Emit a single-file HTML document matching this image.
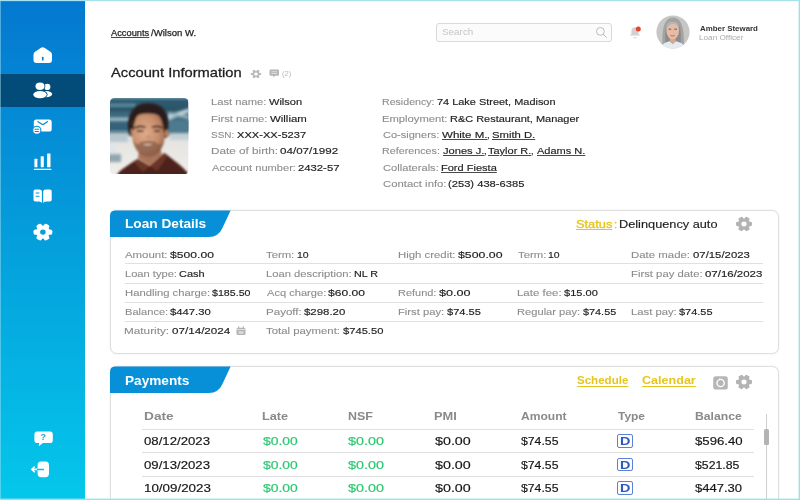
<!DOCTYPE html>
<html lang="en"><head><meta charset="utf-8"><title>Account - Wilson W.</title>
<style>
*{box-sizing:border-box;margin:0;padding:0}
html,body{width:800px;height:500px;overflow:hidden;background:#fff}
body{position:relative;font-family:"Liberation Sans",sans-serif;color:#222}
.abs,.t,svg.i{position:absolute}
.t{white-space:nowrap;line-height:1;display:block;transform-origin:0 0}
.side{position:absolute;left:0;top:0;width:85px;height:500px;background:linear-gradient(180deg,#0478d0 0%,#04a0dc 50%,#04c7eb 100%)}
.side .active{position:absolute;left:0;top:73.5px;width:85px;height:33px;background:#034c7a}
.frame{position:absolute;left:0;top:0;width:800px;height:500px;pointer-events:none;box-shadow:inset 0 1px 0 #a4e2ee,inset -1px 0 0 #9fe1ea,inset 0 -1px 0 #9ae3ee,inset 1px 0 0 rgba(170,228,242,.45),inset -2px 0 0 rgba(159,225,234,.4),inset 0 -2px 0 rgba(154,227,238,.4),inset 0 2px 0 rgba(164,226,238,.15)}
.card{position:absolute;border:1px solid #dfdfdf;border-radius:7px;background:#fff;box-shadow:0 0 2px rgba(0,0,0,.10)}
.u{text-decoration:underline;text-decoration-thickness:.7px;text-underline-offset:1.2px}
.hl{position:absolute;height:1px;background:#e0e0e0}
.search{position:absolute;left:436px;top:23px;width:176px;height:19px;border:1px solid #dadada;border-radius:3px;background:#fbfbfb}
.dbox{position:absolute;width:15.6px;height:13.6px;border:1px solid #5b82d4;border-radius:2px;background:#fdfdff}

</style></head>
<body>
<nav class="side">
  <div class="active"></div>
  <!-- home -->
  <svg class="i" style="left:30px;top:44px" width="26" height="22" viewBox="30 44 26 22"><path d="M40.6 48.1 Q42.7 46.5 44.8 48.1 L50.4 51.7 Q52 52.8 52 54.8 V59.9 Q52 62.9 49 62.9 H36.5 Q33.5 62.9 33.5 59.9 V54.8 Q33.5 52.8 35.1 51.7 Z" fill="#fff"/><rect x="41.9" y="56.7" width="1.7" height="3.9" rx=".85" fill="#047ed2"/></svg>
  <!-- users -->
  <svg class="i" style="left:30px;top:80px" width="26" height="22" viewBox="30 80 26 22"><circle cx="47.300" cy="86.900" r="3.100" fill="#fff"/><ellipse cx="46.200" cy="94.100" rx="6" ry="3.100" fill="#fff"/><ellipse cx="40" cy="86.300" rx="4.500" ry="3.700" fill="#fff" stroke="#034c7a" stroke-width="1.800"/><ellipse cx="40" cy="94.600" rx="6.700" ry="3.600" fill="#fff" stroke="#034c7a" stroke-width="1.800"/><ellipse cx="40" cy="86.300" rx="4.500" ry="3.700" fill="#fff"/><ellipse cx="40" cy="94.600" rx="6.700" ry="3.600" fill="#fff"/></svg>
  <!-- mail -->
  <svg class="i" style="left:30px;top:116px" width="26" height="22" viewBox="30 116 26 22"><rect x="33.8" y="119.4" width="17.9" height="12.1" rx="2.6" fill="#fff"/><path d="M38 121.7 L42.8 124.7 L47.4 121.7" fill="none" stroke="#048bd6" stroke-width="1.3" stroke-linecap="round" stroke-linejoin="round"/><circle cx="36.8" cy="130.3" r="4.1" fill="#fff" stroke="#048dd6" stroke-width="1.1"/><path d="M35.1 129.3 H38.7 M35.1 131.5 H38.7" stroke="#048dd6" stroke-width="1.1" stroke-linecap="round"/></svg>
  <!-- chart -->
  <svg class="i" style="left:30px;top:150px" width="26" height="22" viewBox="30 150 26 22"><rect x="34.4" y="158.8" width="3" height="8.4" rx=".4" fill="#fff"/><rect x="40.7" y="156.2" width="3.1" height="11" rx=".4" fill="#fff"/><rect x="47.1" y="153.6" width="3.4" height="13.6" rx=".4" fill="#fff"/><rect x="33.8" y="168.7" width="17.6" height="1.4" rx=".5" fill="#fff"/></svg>
  <!-- book -->
  <svg class="i" style="left:30px;top:186px" width="26" height="22" viewBox="30 186 26 22"><path d="M33.5 191.2 Q33.5 189.4 35.3 189.4 H39.3 Q41.9 189.4 41.9 191.6 V203.1 Q41.1 201.6 39 201.6 H35.3 Q33.5 201.6 33.5 199.8 Z" fill="#fff"/><path d="M51.7 191.2 Q51.7 189.4 49.900 189.4 H45.800 Q43.200 189.4 43.200 191.6 V203.1 Q44 201.6 46.100 201.6 H49.900 Q51.700 201.6 51.700 199.8 Z" fill="#fff"/><path d="M36.1 193 H39 M36.1 196.300 H39" stroke="#0497d9" stroke-width="1" stroke-linecap="round"/></svg>
  <!-- gear -->
  <svg class="i" style="left:30px;top:221px" width="26" height="22" viewBox="-13 -11 26 22"><g transform="translate(-.1 .1) scale(1 .93)"><g fill="#fff"><rect x="-9.4" y="-2.900" width="18.800" height="5.800" rx="2"/><rect x="-9.4" y="-2.900" width="18.800" height="5.800" rx="2" transform="rotate(60)"/><rect x="-9.4" y="-2.900" width="18.800" height="5.800" rx="2" transform="rotate(120)"/><circle r="7"/></g><circle r="2.800" fill="#049fdc"/></g></svg>
  <!-- help -->
  <svg class="i" style="left:30px;top:428px" width="26" height="22" viewBox="30 428 26 22"><path d="M37.200 431.600 H50 Q52.800 431.600 52.800 434.400 V440.200 Q52.800 443 50 443 H43 L39.300 445.800 Q38.700 446.200 38.800 445.400 L39.200 443 H37.200 Q34.400 443 34.400 440.200 V434.400 Q34.400 431.600 37.200 431.600 Z" fill="#fff"/></svg>
  <span class="t" style="left:40.500px;top:433px;font-size:9px;font-weight:700;color:#11a8de">?</span>
  <!-- logout -->
  <svg class="i" style="left:28px;top:458px" width="26" height="22" viewBox="28 458 26 22"><rect x="37.600" y="461.600" width="11.400" height="15.600" rx="3.600" fill="#fff"/><path d="M38 469.400 H32 M34.300 467 L31.900 469.400 L34.300 471.800" fill="none" stroke="#fff" stroke-width="1.600" stroke-linecap="round" stroke-linejoin="round"/><path d="M37.600 469.400 H43.400" stroke="#04c2e9" stroke-width="1.500" stroke-linecap="round"/></svg>
</nav>

<main>
  <!-- header -->
  <div class="search"></div>
  <svg class="i" style="left:595px;top:26px" width="13" height="13" viewBox="0 0 13 13"><circle cx="5.4" cy="5.4" r="3.9" fill="none" stroke="#bcbcbc" stroke-width="1"/><path d="M8.3 8.3 L11.4 11.4" stroke="#bcbcbc" stroke-width="1" stroke-linecap="round"/></svg>
  <!-- bell -->
  <svg class="i" style="left:626px;top:24px" width="18" height="18" viewBox="626 24 18 18"><path d="M635 27.200 Q638.600 27.200 638.600 31.200 V33.400 L640 35.600 H630 L631.400 33.400 V31.200 Q631.400 27.200 635 27.200 Z" fill="#d2d2d2"/><path d="M633.700 37.800 H636.300" stroke="#d6d6d6" stroke-width="1.100" stroke-linecap="round"/><circle cx="638.300" cy="29.100" r="2.500" fill="#e8432d"/></svg>
  <!-- avatar -->
  <svg class="i" style="left:656px;top:15px" width="34" height="34" viewBox="0 0 34 34"><defs><clipPath id="av"><circle cx="17" cy="17" r="16.600"/></clipPath><filter id="b1"><feGaussianBlur stdDeviation=".6"/></filter></defs><g clip-path="url(#av)"><rect width="34" height="34" fill="#c6c6c5"/><g filter="url(#b1)" transform="translate(0 -1.800)"><path d="M7 38 C5.500 22 6 4.500 17 4.300 C28 4.500 28.500 22 27.500 38 Z" fill="#a3a3a3"/><path d="M9.500 30 C8.500 18 9.500 7.500 17 7.500 C24.500 7.500 25.500 18 24.500 31 Z" fill="#8b8b8b"/><path d="M4 38 C5 29.500 11 28 16.800 28 C22.500 28 29 29.500 30 38 Z" fill="#e4ebf2"/><path d="M13.800 23 H19.600 V28.500 L16.700 31 L13.800 28.500 Z" fill="#d8a790"/><ellipse cx="16.700" cy="17.500" rx="6.300" ry="8.600" fill="#e6bca6"/><path d="M10 17 C10 9.500 13 8 16.800 8 C20.500 8 23.500 9.500 23.400 17 C22.500 12.500 20.500 10.800 17.500 10.500 C14 10.800 11.500 12.500 10 17 Z" fill="#b4b4b3"/><path d="M14.500 22.300 Q16.700 23.300 18.900 22.300" stroke="#b86c66" stroke-width="1" fill="none"/><path d="M12.600 16 H15.200 M18.200 16 H20.800" stroke="#5d473e" stroke-width=".9"/></g></g></svg>

  <!-- title icons -->
  <svg class="i" style="left:250px;top:67.500px" width="12" height="12" viewBox="-6 -6 12 12"><g transform="scale(1 .86)"><g fill="#b9b9b9"><rect x="-5.200" y="-1.300" width="10.400" height="2.600" rx=".8"/><rect x="-5.200" y="-1.300" width="10.400" height="2.600" rx=".8" transform="rotate(60)"/><rect x="-5.200" y="-1.300" width="10.400" height="2.600" rx=".8" transform="rotate(120)"/><circle r="3.600"/></g><circle r="1.800" fill="#fff"/></g></svg>
  <svg class="i" style="left:268.500px;top:69.200px" width="10.500" height="9" viewBox="0 0 10.500 9"><path d="M1.700 .5 H8.800 Q10 .5 10 1.700 V5.600 Q10 6.800 8.800 6.800 H6 L4.600 8.400 L4.200 6.800 H1.700 Q.5 6.800 .5 5.600 V1.700 Q.5 .5 1.700 .5 Z" fill="#b5b5b5"/><path d="M2.300 2.700 H8.200 M2.300 4.500 H8.200" stroke="#e6e6e6" stroke-width=".8"/></svg>

  <!-- portrait -->
  <svg class="i" style="left:110.300px;top:97.500px" width="78.500" height="76.500" viewBox="0 0 78.500 76.500"><defs><clipPath id="pc"><rect width="78.500" height="76.500" rx="4.500"/></clipPath><filter id="b2" x="-20%" y="-20%" width="140%" height="140%"><feGaussianBlur stdDeviation=".8"/></filter><filter id="b3" x="-20%" y="-20%" width="140%" height="140%"><feGaussianBlur stdDeviation="1.800"/></filter><linearGradient id="bg" x1="0" y1="0" x2="0" y2="1"><stop offset="0" stop-color="#5e8aa0"/><stop offset=".04" stop-color="#2f5a6f"/><stop offset=".15" stop-color="#2b5468"/><stop offset=".2" stop-color="#3b687c"/><stop offset=".4" stop-color="#34617a"/><stop offset=".46" stop-color="#7d9ba8"/><stop offset=".52" stop-color="#e4e3e0"/><stop offset="1" stop-color="#f1eeea"/></linearGradient><radialGradient id="sk" cx=".4" cy=".45" r=".65"><stop offset="0" stop-color="#dfab8a"/><stop offset=".6" stop-color="#c98f6e"/><stop offset="1" stop-color="#9c684d"/></radialGradient></defs>
  <g clip-path="url(#pc)"><rect width="78.500" height="76.500" fill="url(#bg)"/>
   <g filter="url(#b3)"><rect x="-4" y="19.500" width="26" height="3.500" fill="#a4bcc7"/><rect x="-4" y="5.500" width="30" height="3.500" fill="#5d8ba0"/><path d="M56 18 L80 10 L80 14 L58 22 Z" fill="#c6d8df"/><path d="M58 14 L80 18 L80 21 L58 17 Z" fill="#9db8c4"/><rect x="58" y="22" width="24" height="12" fill="#4d7a8f"/><rect x="-4" y="36" width="22" height="8" fill="#b9c8cf"/><rect x="-4" y="56" width="15" height="8" fill="#8fa5af"/><rect x="-4" y="46" width="10" height="10" fill="#dfe6e8"/><rect x="60" y="36" width="22" height="6" fill="#c3d0d5"/></g>
   <g filter="url(#b2)">
    <path d="M6 78 L9 74 C13 70 20 66 27.500 61 L39.700 68 L54.400 55 C58 58 70 66 77 74 L80 78 Z" fill="#4e241b"/>
    <path d="M27.500 61 L39.700 68 L33 74 L24 64 Z M54.400 55 L39.700 68 L47 73 L57 59 Z" fill="#6a3426"/>
    <path d="M29.200 50 H50.200 L52 57 L39.700 67.500 L28 60.500 Z" fill="#a9745a"/>
    <path d="M18.500 34 C16 16 24 5 38 5.200 C52 5 60 14 58 30 L56.500 40 L20.500 38 Z" fill="#2a1e1a"/>
    <path d="M21 30 C20.500 20 27 15.500 38 15.500 C49 15.500 55.500 20 55.500 30 C55.500 44 50 58.800 38.700 58.800 C28 58.800 21 44 21 30 Z" fill="url(#sk)"/>
    <path d="M22.500 40 C24 52 30 58.800 38.700 58.800 C47.500 58.800 53 52 55 40 C53 46 49.500 48 46 44.500 C42.500 42.500 34.500 42.500 31 44.500 C28 48 24.500 46 22.500 40 Z" fill="#7a5140" opacity=".6"/>
    <path d="M31.500 45.200 Q37.500 46.800 43.500 44.900 Q38 49.600 31.500 45.200 Z" fill="#efe3da"/><path d="M29.500 44.600 Q37.500 47 45.500 44.200" stroke="#8a5a48" stroke-width=".9" fill="none"/>
    <path d="M24.500 30 Q29.500 27 35.500 29.500 M42 29.500 Q47.500 27 52.300 30" stroke="#2a1e1a" stroke-width="1.700" fill="none"/>
    <path d="M27 33.200 H33.500 M44 33.200 H50" stroke="#2e211c" stroke-width="1.700"/>
    <path d="M36.500 38.500 Q38.500 40 40.500 38.500" stroke="#a9745a" stroke-width="1" fill="none"/>
    <ellipse cx="56.800" cy="35.500" rx="1.900" ry="3.800" fill="#b27a5c"/>
    <path d="M21 30 C21 22 24 17.500 29 16 C25 20 24 26 23.500 33 Z M55.500 30 C55.500 22 52 17 47 15.800 C52 20 53 27 54 36 Z" fill="#2a1e1a"/>
   </g></g></svg>

  <!-- loan card -->
  <section class="card" style="left:110px;top:210px;width:669px;height:144px"></section>
  <svg class="i" style="left:110px;top:210px" width="125" height="28" viewBox="0 0 125 28"><path d="M0 27 V6 Q0 .6 5.500 .6 H120.600 L112.200 18.600 Q108.400 27 99 27 Z" fill="#0790d8"/></svg>
  <div class="hl" style="left:125px;top:263.3px;width:638px"></div>
  <div class="hl" style="left:125px;top:282.600px;width:638px"></div>
  <div class="hl" style="left:125px;top:301.800px;width:638px"></div>
  <div class="hl" style="left:125px;top:321px;width:638px"></div>
  <!-- calendar mini -->
  <svg class="i" style="left:235.500px;top:326px" width="10" height="10" viewBox="235.500 326 10 10"><rect x="236" y="327.800" width="9" height="7.200" rx="1.500" fill="#b4b4b4"/><path d="M238.200 326.800 V328.500 M242.800 326.800 V328.500" stroke="#b4b4b4" stroke-width="1.200" stroke-linecap="round"/><path d="M236 329.500 H245" stroke="#fff" stroke-width=".6"/><rect x="238" y="331.300" width="5" height="2.500" rx=".4" fill="#dcdcdc"/></svg>
  <!-- gear loan -->
  <svg class="i" style="left:733.900px;top:216.200px" width="20" height="16" viewBox="-10 -8 20 16"><g transform="scale(1 .93)"><g fill="#b3b3b3"><rect x="-8" y="-2.500" width="16" height="5" rx="1.600"/><rect x="-8" y="-2.500" width="16" height="5" rx="1.600" transform="rotate(60)"/><rect x="-8" y="-2.500" width="16" height="5" rx="1.600" transform="rotate(120)"/><circle r="6"/></g><circle r="2.600" fill="#fff"/></g></svg>

  <!-- payments card -->
  <section class="card" style="left:110px;top:366px;width:669px;height:160px"></section>
  <svg class="i" style="left:110px;top:366.200px" width="125" height="28" viewBox="0 0 125 28"><path d="M0 27 V6 Q0 .6 5.500 .6 H120.600 L112.200 18.600 Q108.400 27 99 27 Z" fill="#0790d8"/></svg>
  <!-- refresh icon -->
  <svg class="i" style="left:712.500px;top:375.500px" width="15" height="14" viewBox="0 0 15 14"><rect x=".2" y=".3" width="14.600" height="13.200" rx="2.600" fill="#b6b6b6"/><circle cx="7.600" cy="7" r="3.600" fill="none" stroke="#fff" stroke-width="1.400"/><path d="M5.400 2 L7.400 4.600" fill="none" stroke="#b6b6b6" stroke-width="1.300"/><circle cx="6.700" cy="3.400" r=".9" fill="#fff"/></svg>
  <svg class="i" style="left:733.900px;top:374.400px" width="20" height="16" viewBox="-10 -8 20 16"><g transform="scale(1 .93)"><g fill="#b3b3b3"><rect x="-8" y="-2.500" width="16" height="5" rx="1.600"/><rect x="-8" y="-2.500" width="16" height="5" rx="1.600" transform="rotate(60)"/><rect x="-8" y="-2.500" width="16" height="5" rx="1.600" transform="rotate(120)"/><circle r="6"/></g><circle r="2.600" fill="#fff"/></g></svg>
  <div class="hl" style="left:141.500px;top:429px;width:612px"></div>
  <div class="hl" style="left:141.500px;top:452px;width:612px"></div>
  <div class="hl" style="left:141.500px;top:476px;width:612px"></div>
  <div class="dbox" style="left:617.200px;top:434.200px"></div>
  <div class="dbox" style="left:617.200px;top:457.900px"></div>
  <div class="dbox" style="left:617.200px;top:481.400px"></div>
  <!-- scrollbar -->
  <div class="abs" style="left:765.700px;top:414px;width:1px;height:90px;background:#cfcfcf"></div>
  <div class="abs" style="left:763.500px;top:428.500px;width:5.500px;height:16px;border-radius:1.500px;background:#b3b3b3"></div>

<header class="grp hdr">
<span class="t u" style="left:111.00px;top:29px;font-size:9px;color:#1f1f1f;transform:scaleX(1.0339);-webkit-text-stroke:0.16px;text-decoration-color:#4a4a4a;-webkit-text-stroke:.25px;">Accounts</span>
<span class="t" style="left:151.00px;top:29px;font-size:9px;color:#1f1f1f;transform:scaleX(1.0634);-webkit-text-stroke:0.16px;-webkit-text-stroke:.25px;">/Wilson W.</span>
<span class="t" style="left:111.00px;top:66px;font-size:13px;color:#1f1f1f;transform:scaleX(1.1300);-webkit-text-stroke:0.16px;-webkit-text-stroke:.28px;">Account Information</span>
<span class="t" style="left:282.00px;top:71px;font-size:6.6px;color:#b9b9b9;transform:scaleX(1.1422);">(2)</span>
<span class="t" style="left:442.00px;top:28px;font-size:8.5px;color:#c6c6c6;transform:scaleX(1.1634);">Search</span>
<span class="t" style="left:700.00px;top:25px;font-size:7.6px;color:#333;font-weight:700;transform:scaleX(1.0400);">Amber Steward</span>
<span class="t" style="left:699.00px;top:34px;font-size:7.4px;color:#aaa;transform:scaleX(1.1057);">Loan Officer</span>
</header>
<section class="grp acct">
<span class="t" style="left:211.00px;top:97px;font-size:9.5px;color:#8c8c8c;transform:scaleX(1.1800);-webkit-text-stroke:0.1px;">Last name:</span>
<span class="t" style="left:269.00px;top:97px;font-size:9.5px;color:#1f1f1f;transform:scaleX(1.1623);-webkit-text-stroke:0.16px;">Wilson</span>
<span class="t" style="left:211.00px;top:114px;font-size:9.5px;color:#8c8c8c;transform:scaleX(1.1890);-webkit-text-stroke:0.1px;">First name:</span>
<span class="t" style="left:270.00px;top:114px;font-size:9.5px;color:#1f1f1f;transform:scaleX(1.2013);-webkit-text-stroke:0.16px;">William</span>
<span class="t" style="left:211.00px;top:130px;font-size:9.5px;color:#8c8c8c;transform:scaleX(1.0460);-webkit-text-stroke:0.1px;">SSN:</span>
<span class="t" style="left:237.00px;top:130px;font-size:9.5px;color:#1f1f1f;transform:scaleX(1.1679);-webkit-text-stroke:0.16px;">XXX-XX-5237</span>
<span class="t" style="left:211.00px;top:146px;font-size:9.5px;color:#8c8c8c;transform:scaleX(1.2341);-webkit-text-stroke:0.1px;">Date of birth:</span>
<span class="t" style="left:280.00px;top:146px;font-size:9.5px;color:#1f1f1f;transform:scaleX(1.2232);-webkit-text-stroke:0.16px;">04/07/1992</span>
<span class="t" style="left:212.00px;top:163px;font-size:9.5px;color:#8c8c8c;transform:scaleX(1.1688);-webkit-text-stroke:0.1px;">Account number:</span>
<span class="t" style="left:298.00px;top:163px;font-size:9.5px;color:#1f1f1f;transform:scaleX(1.1887);-webkit-text-stroke:0.16px;">2432-57</span>
<span class="t" style="left:382.00px;top:97px;font-size:9.5px;color:#8c8c8c;transform:scaleX(1.1169);-webkit-text-stroke:0.1px;">Residency:</span>
<span class="t" style="left:437.00px;top:97px;font-size:9.5px;color:#1f1f1f;transform:scaleX(1.1509);-webkit-text-stroke:0.16px;">74 Lake Street, Madison</span>
<span class="t" style="left:382.00px;top:114px;font-size:9.5px;color:#8c8c8c;transform:scaleX(1.1807);-webkit-text-stroke:0.1px;">Employment:</span>
<span class="t" style="left:450.00px;top:114px;font-size:9.5px;color:#1f1f1f;transform:scaleX(1.1544);-webkit-text-stroke:0.16px;">R&amp;C Restaurant, Manager</span>
<span class="t" style="left:383.00px;top:130px;font-size:9.5px;color:#8c8c8c;transform:scaleX(1.1610);-webkit-text-stroke:0.1px;">Co-signers:</span>
<span class="t u" style="left:442.00px;top:130px;font-size:9.5px;color:#1f1f1f;transform:scaleX(1.2145);-webkit-text-stroke:0.16px;text-decoration-color:#4a4a4a;">White M.</span>
<span class="t" style="left:487.00px;top:130px;font-size:9.5px;color:#1f1f1f;-webkit-text-stroke:0.16px;">,</span>
<span class="t u" style="left:492.00px;top:130px;font-size:9.5px;color:#1f1f1f;transform:scaleX(1.1863);-webkit-text-stroke:0.16px;text-decoration-color:#4a4a4a;">Smith D.</span>
<span class="t u" style="left:443.00px;top:146px;font-size:9.5px;color:#1f1f1f;transform:scaleX(1.1710);-webkit-text-stroke:0.16px;text-decoration-color:#4a4a4a;">Jones J.</span>
<span class="t" style="left:484.00px;top:146px;font-size:9.5px;color:#1f1f1f;-webkit-text-stroke:0.16px;">,</span>
<span class="t u" style="left:488.00px;top:146px;font-size:9.5px;color:#1f1f1f;transform:scaleX(1.1556);-webkit-text-stroke:0.16px;text-decoration-color:#4a4a4a;">Taylor R.</span>
<span class="t" style="left:531.00px;top:146px;font-size:9.5px;color:#1f1f1f;-webkit-text-stroke:0.16px;">,</span>
<span class="t u" style="left:537.00px;top:146px;font-size:9.5px;color:#1f1f1f;transform:scaleX(1.1595);-webkit-text-stroke:0.16px;text-decoration-color:#4a4a4a;">Adams N.</span>
<span class="t" style="left:382.00px;top:146px;font-size:9.5px;color:#8c8c8c;transform:scaleX(1.1312);-webkit-text-stroke:0.1px;">References:</span>
<span class="t" style="left:383.00px;top:163px;font-size:9.5px;color:#8c8c8c;transform:scaleX(1.1738);-webkit-text-stroke:0.1px;">Collaterals:</span>
<span class="t u" style="left:441.00px;top:163px;font-size:9.5px;color:#1f1f1f;transform:scaleX(1.1609);-webkit-text-stroke:0.16px;text-decoration-color:#4a4a4a;">Ford Fiesta</span>
<span class="t" style="left:383.00px;top:179px;font-size:9.5px;color:#8c8c8c;transform:scaleX(1.1905);-webkit-text-stroke:0.1px;">Contact info:</span>
<span class="t" style="left:448.00px;top:179px;font-size:9.5px;color:#1f1f1f;transform:scaleX(1.1758);-webkit-text-stroke:0.16px;">(253) 438-6385</span>
</section>
<section class="grp loan">
<span class="t" style="left:125.00px;top:218px;font-size:12px;color:#fff;font-weight:700;transform:scaleX(1.1382);">Loan Details</span>
<span class="t u" style="left:576.00px;top:219px;font-size:11.5px;color:#e6c61c;transform:scaleX(1.1145);-webkit-text-stroke:.35px;">Status</span>
<span class="t" style="left:614.00px;top:219px;font-size:11.5px;color:#e6c61c;-webkit-text-stroke:.35px;">:</span>
<span class="t" style="left:619.00px;top:219px;font-size:11.5px;color:#1f1f1f;transform:scaleX(1.1082);-webkit-text-stroke:0.16px;">Delinquency auto</span>
<span class="t" style="left:125.00px;top:250px;font-size:9.8px;color:#8c8c8c;transform:scaleX(1.1648);-webkit-text-stroke:0.1px;">Amount:</span>
<span class="t" style="left:170.00px;top:250px;font-size:9.8px;color:#1f1f1f;transform:scaleX(1.2394);-webkit-text-stroke:0.16px;">$500.00</span>
<span class="t" style="left:125.00px;top:269px;font-size:9.8px;color:#8c8c8c;transform:scaleX(1.1353);-webkit-text-stroke:0.1px;">Loan type:</span>
<span class="t" style="left:179.00px;top:269px;font-size:9.8px;color:#1f1f1f;transform:scaleX(1.1211);-webkit-text-stroke:0.16px;">Cash</span>
<span class="t" style="left:125.00px;top:288px;font-size:9.8px;color:#8c8c8c;transform:scaleX(1.1498);-webkit-text-stroke:0.1px;">Handling charge:</span>
<span class="t" style="left:212.00px;top:288px;font-size:9.8px;color:#1f1f1f;transform:scaleX(1.0862);-webkit-text-stroke:0.16px;">$185.50</span>
<span class="t" style="left:125.00px;top:307px;font-size:9.8px;color:#8c8c8c;transform:scaleX(1.1333);-webkit-text-stroke:0.1px;">Balance:</span>
<span class="t" style="left:170.00px;top:307px;font-size:9.8px;color:#1f1f1f;transform:scaleX(1.1502);-webkit-text-stroke:0.16px;">$447.30</span>
<span class="t" style="left:124.00px;top:326px;font-size:9.8px;color:#8c8c8c;transform:scaleX(1.2016);-webkit-text-stroke:0.1px;">Maturity:</span>
<span class="t" style="left:172.00px;top:326px;font-size:9.8px;color:#1f1f1f;transform:scaleX(1.1882);-webkit-text-stroke:0.16px;">07/14/2024</span>
<span class="t" style="left:266.00px;top:250px;font-size:9.8px;color:#8c8c8c;transform:scaleX(1.1529);-webkit-text-stroke:0.1px;">Term:</span>
<span class="t" style="left:297.00px;top:250px;font-size:9.8px;color:#1f1f1f;transform:scaleX(1.0687);-webkit-text-stroke:0.16px;">10</span>
<span class="t" style="left:266.00px;top:269px;font-size:9.8px;color:#8c8c8c;transform:scaleX(1.1465);-webkit-text-stroke:0.1px;">Loan description:</span>
<span class="t" style="left:354.00px;top:269px;font-size:9.8px;color:#1f1f1f;transform:scaleX(1.0941);-webkit-text-stroke:0.16px;">NL R</span>
<span class="t" style="left:267.00px;top:288px;font-size:9.8px;color:#8c8c8c;transform:scaleX(1.1331);-webkit-text-stroke:0.1px;">Acq charge:</span>
<span class="t" style="left:328.00px;top:288px;font-size:9.8px;color:#1f1f1f;transform:scaleX(1.2316);-webkit-text-stroke:0.16px;">$60.00</span>
<span class="t" style="left:266.00px;top:307px;font-size:9.8px;color:#8c8c8c;transform:scaleX(1.1807);-webkit-text-stroke:0.1px;">Payoff:</span>
<span class="t" style="left:304.00px;top:307px;font-size:9.8px;color:#1f1f1f;transform:scaleX(1.1658);-webkit-text-stroke:0.16px;">$298.20</span>
<span class="t" style="left:266.00px;top:326px;font-size:9.8px;color:#8c8c8c;transform:scaleX(1.1612);-webkit-text-stroke:0.1px;">Total payment:</span>
<span class="t" style="left:343.00px;top:326px;font-size:9.8px;color:#1f1f1f;transform:scaleX(1.1407);-webkit-text-stroke:0.16px;">$745.50</span>
<span class="t" style="left:398.00px;top:250px;font-size:9.8px;color:#8c8c8c;transform:scaleX(1.1607);-webkit-text-stroke:0.1px;">High credit:</span>
<span class="t" style="left:458.00px;top:250px;font-size:9.8px;color:#1f1f1f;transform:scaleX(1.2569);-webkit-text-stroke:0.16px;">$500.00</span>
<span class="t" style="left:398.00px;top:288px;font-size:9.8px;color:#8c8c8c;transform:scaleX(1.1187);-webkit-text-stroke:0.1px;">Refund:</span>
<span class="t" style="left:439.00px;top:288px;font-size:9.8px;color:#1f1f1f;transform:scaleX(1.2886);-webkit-text-stroke:0.16px;">$0.00</span>
<span class="t" style="left:398.00px;top:307px;font-size:9.8px;color:#8c8c8c;transform:scaleX(1.1456);-webkit-text-stroke:0.1px;">First pay:</span>
<span class="t" style="left:447.00px;top:307px;font-size:9.8px;color:#1f1f1f;transform:scaleX(1.1341);-webkit-text-stroke:0.16px;">$74.55</span>
<span class="t" style="left:518.00px;top:250px;font-size:9.8px;color:#8c8c8c;transform:scaleX(1.1553);-webkit-text-stroke:0.1px;">Term:</span>
<span class="t" style="left:548.00px;top:250px;font-size:9.8px;color:#1f1f1f;transform:scaleX(1.0636);-webkit-text-stroke:0.16px;">10</span>
<span class="t" style="left:517.00px;top:288px;font-size:9.8px;color:#8c8c8c;transform:scaleX(1.1694);-webkit-text-stroke:0.1px;">Late fee:</span>
<span class="t" style="left:564.00px;top:288px;font-size:9.8px;color:#1f1f1f;transform:scaleX(1.1280);-webkit-text-stroke:0.16px;">$15.00</span>
<span class="t" style="left:517.00px;top:307px;font-size:9.8px;color:#8c8c8c;transform:scaleX(1.1372);-webkit-text-stroke:0.1px;">Regular pay:</span>
<span class="t" style="left:583.00px;top:307px;font-size:9.8px;color:#1f1f1f;transform:scaleX(1.1084);-webkit-text-stroke:0.16px;">$74.55</span>
<span class="t" style="left:631.00px;top:250px;font-size:9.8px;color:#8c8c8c;transform:scaleX(1.1650);-webkit-text-stroke:0.1px;">Date made:</span>
<span class="t" style="left:693.00px;top:250px;font-size:9.8px;color:#1f1f1f;transform:scaleX(1.1593);-webkit-text-stroke:0.16px;">07/15/2023</span>
<span class="t" style="left:631.00px;top:269px;font-size:9.8px;color:#8c8c8c;transform:scaleX(1.1541);-webkit-text-stroke:0.1px;">First pay date:</span>
<span class="t" style="left:705.00px;top:269px;font-size:9.8px;color:#1f1f1f;transform:scaleX(1.1694);-webkit-text-stroke:0.16px;">07/16/2023</span>
<span class="t" style="left:631.00px;top:307px;font-size:9.8px;color:#8c8c8c;transform:scaleX(1.1504);-webkit-text-stroke:0.1px;">Last pay:</span>
<span class="t" style="left:679.00px;top:307px;font-size:9.8px;color:#1f1f1f;transform:scaleX(1.1193);-webkit-text-stroke:0.16px;">$74.55</span>
</section>
<section class="grp pay">
<span class="t" style="left:125.00px;top:375px;font-size:12px;color:#fff;font-weight:700;transform:scaleX(1.1343);">Payments</span>
<span class="t u" style="left:577.00px;top:375px;font-size:11px;color:#e6c61c;font-weight:700;transform:scaleX(1.0492);text-underline-offset:2.2px;">Schedule</span>
<span class="t u" style="left:642.00px;top:375px;font-size:11px;color:#e6c61c;font-weight:700;transform:scaleX(1.1420);text-underline-offset:2.2px;">Calendar</span>
<span class="t" style="left:144.00px;top:411px;font-size:10.8px;color:#8a8a8a;font-weight:700;transform:scaleX(1.2666);">Date</span>
<span class="t" style="left:262.00px;top:411px;font-size:10.8px;color:#8a8a8a;font-weight:700;transform:scaleX(1.1798);">Late</span>
<span class="t" style="left:348.00px;top:411px;font-size:10.8px;color:#8a8a8a;font-weight:700;transform:scaleX(1.1564);">NSF</span>
<span class="t" style="left:434.00px;top:411px;font-size:10.8px;color:#8a8a8a;font-weight:700;transform:scaleX(1.1864);">PMI</span>
<span class="t" style="left:521.00px;top:411px;font-size:10.8px;color:#8a8a8a;font-weight:700;transform:scaleX(1.1173);">Amount</span>
<span class="t" style="left:618.00px;top:411px;font-size:10.8px;color:#8a8a8a;font-weight:700;transform:scaleX(1.1058);">Type</span>
<span class="t" style="left:695.00px;top:411px;font-size:10.8px;color:#8a8a8a;font-weight:700;transform:scaleX(1.1297);">Balance</span>
<span class="t" style="left:144.00px;top:436px;font-size:11px;color:#151515;transform:scaleX(1.1987);-webkit-text-stroke:0.16px;">08/12/2023</span>
<span class="t" style="left:263.00px;top:436px;font-size:11px;color:#2cc872;transform:scaleX(1.2609);-webkit-text-stroke:.2px;">$0.00</span>
<span class="t" style="left:348.00px;top:436px;font-size:11px;color:#2cc872;transform:scaleX(1.3025);-webkit-text-stroke:.2px;">$0.00</span>
<span class="t" style="left:435.00px;top:436px;font-size:11px;color:#151515;transform:scaleX(1.2992);-webkit-text-stroke:0.16px;">$0.00</span>
<span class="t" style="left:521.00px;top:436px;font-size:11px;color:#151515;transform:scaleX(1.1135);-webkit-text-stroke:0.16px;">$74.55</span>
<span class="t" style="left:695.00px;top:436px;font-size:11px;color:#151515;transform:scaleX(1.1986);-webkit-text-stroke:0.16px;">$596.40</span>
<span class="t" style="left:144.00px;top:460px;font-size:11px;color:#151515;transform:scaleX(1.1987);-webkit-text-stroke:0.16px;">09/13/2023</span>
<span class="t" style="left:263.00px;top:460px;font-size:11px;color:#2cc872;transform:scaleX(1.2609);-webkit-text-stroke:.2px;">$0.00</span>
<span class="t" style="left:348.00px;top:460px;font-size:11px;color:#2cc872;transform:scaleX(1.3025);-webkit-text-stroke:.2px;">$0.00</span>
<span class="t" style="left:435.00px;top:460px;font-size:11px;color:#151515;transform:scaleX(1.2992);-webkit-text-stroke:0.16px;">$0.00</span>
<span class="t" style="left:521.00px;top:460px;font-size:11px;color:#151515;transform:scaleX(1.1135);-webkit-text-stroke:0.16px;">$74.55</span>
<span class="t" style="left:695.00px;top:460px;font-size:11px;color:#151515;transform:scaleX(1.1144);-webkit-text-stroke:0.16px;">$521.85</span>
<span class="t" style="left:144.00px;top:483px;font-size:11px;color:#151515;transform:scaleX(1.2141);-webkit-text-stroke:0.16px;">10/09/2023</span>
<span class="t" style="left:263.00px;top:483px;font-size:11px;color:#2cc872;transform:scaleX(1.2609);-webkit-text-stroke:.2px;">$0.00</span>
<span class="t" style="left:348.00px;top:483px;font-size:11px;color:#2cc872;transform:scaleX(1.3025);-webkit-text-stroke:.2px;">$0.00</span>
<span class="t" style="left:435.00px;top:483px;font-size:11px;color:#151515;transform:scaleX(1.2992);-webkit-text-stroke:0.16px;">$0.00</span>
<span class="t" style="left:521.00px;top:483px;font-size:11px;color:#151515;transform:scaleX(1.1135);-webkit-text-stroke:0.16px;">$74.55</span>
<span class="t" style="left:695.00px;top:483px;font-size:11px;color:#151515;transform:scaleX(1.1824);-webkit-text-stroke:0.16px;">$447.30</span>
<span class="t" style="left:620.00px;top:436px;font-size:11.5px;color:#2d5abf;font-weight:700;transform:scaleX(1.2492);">D</span>
<span class="t" style="left:620.00px;top:460px;font-size:11.5px;color:#2d5abf;font-weight:700;transform:scaleX(1.2492);">D</span>
<span class="t" style="left:620.00px;top:483px;font-size:11.5px;color:#2d5abf;font-weight:700;transform:scaleX(1.2492);">D</span>
</section>
</main>
<div class="frame"></div>

</body></html>
